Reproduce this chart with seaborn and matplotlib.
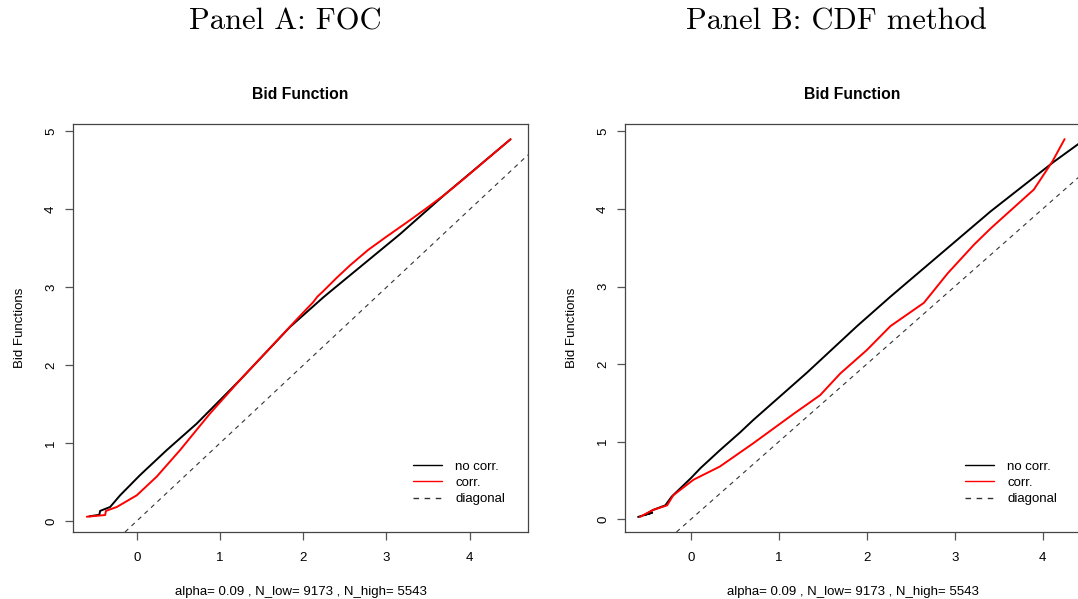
import numpy as np
import pandas as pd
import seaborn as sns
import matplotlib
matplotlib.use("Agg")
import matplotlib.pyplot as plt

# ---------------- data ----------------
panel_titles = ["Panel A: FOC", "Panel B: CDF method"]
plot_title = "Bid Function"
y_label = "Bid Functions"
x_label = "alpha= 0.09 , N_low= 9173 , N_high= 5543"
legend_labels = ["no corr.", "corr.", "diagonal"]
x_ticks = [0, 1, 2, 3, 4]
y_ticks = [0, 1, 2, 3, 4, 5]

a_nocorr_x = [-0.57, -0.45, -0.44, -0.32, -0.20, 0.04, 0.36, 0.72, 1.24, 1.84, 2.24, 2.33, 3.16, 3.70, 4.49]
a_nocorr_y = [0.06, 0.08, 0.13, 0.18, 0.33, 0.59, 0.91, 1.25, 1.81, 2.49, 2.87, 2.95, 3.68, 4.19, 4.90]
a_corr_x = [-0.60, -0.38, -0.37, -0.24, 0.00, 0.24, 0.52, 0.88, 1.24, 1.60, 1.95, 2.12, 2.17, 2.24, 2.40, 2.56,
            2.78, 3.00, 3.28, 3.50, 3.70, 3.95, 4.17, 4.49]
a_corr_y = [0.055, 0.077, 0.13, 0.18, 0.33, 0.57, 0.91, 1.38, 1.81, 2.22, 2.62, 2.81, 2.88, 2.95, 3.12, 3.28,
            3.48, 3.65, 3.86, 4.03, 4.19, 4.41, 4.61, 4.90]

b_nocorr_x = [-0.60, -0.44, -0.52, -0.43, -0.29, -0.22, 0.00, 0.11, 0.33, 0.56, 0.71, 1.23, 1.32, 1.89, 2.27, 2.84, 3.41, 4.13, 4.41, 4.60]
b_nocorr_y = [0.03, 0.085, 0.06, 0.12, 0.18, 0.29, 0.53, 0.66, 0.89, 1.12, 1.28, 1.80, 1.89, 2.49, 2.87, 3.42, 3.97, 4.61, 4.84, 4.98]
b_corr_x = [-0.58, -0.43, -0.27, -0.20, 0.03, 0.33, 0.71, 1.17, 1.47, 1.70, 2.00, 2.27, 2.65, 2.92, 3.22, 3.41, 3.90, 4.11, 4.25]
b_corr_y = [0.03, 0.12, 0.18, 0.31, 0.51, 0.68, 0.98, 1.36, 1.60, 1.88, 2.18, 2.49, 2.79, 3.17, 3.54, 3.75, 4.25, 4.61, 4.90]

diag_intercept = 0.0
diag_slope = 1.0

# ---------------- style ----------------
sns.set_style("white")
plt.rcParams['font.family'] = ['Liberation Sans', 'DejaVu Sans']
plt.rcParams['text.color'] = 'black'
plt.rcParams['axes.labelcolor'] = 'black'

W, H = 1078, 599
fig = plt.figure(figsize=(W / 100, H / 100), dpi=100)

axes_px = [(73, 124, 528, 532), (625, 124, 1080, 532)]
xlims = [(-0.766, 4.70), (-0.749, 4.425)]
ylims = [(-0.141, 5.096), (-0.164, 5.095)]
title_cx = [285, 836]

series = [
    (a_nocorr_x, a_nocorr_y, a_corr_x, a_corr_y),
    (b_nocorr_x, b_nocorr_y, b_corr_x, b_corr_y),
]

fs = 9.5
for i in range(2):
    l, t, r, b = axes_px[i]
    ax = fig.add_axes([l / W, (H - b) / H, (r - l) / W, (b - t) / H])
    nx, ny, cx, cy = series[i]
    df_n = pd.DataFrame({"x": nx, "y": ny})
    df_c = pd.DataFrame({"x": cx, "y": cy})
    sns.lineplot(data=df_n, x="x", y="y", sort=False, estimator=None, color='black',
                 lw=1.4, ax=ax, label=legend_labels[0])
    sns.lineplot(data=df_c, x="x", y="y", sort=False, estimator=None, color='#ff0000',
                 lw=1.4, ax=ax, label=legend_labels[1])
    ax.axline((0, diag_intercept), slope=diag_slope, color='#333333', lw=0.8,
              dashes=(4.0, 4.0), label=legend_labels[2])
    ax.set_xlim(*xlims[i])
    ax.set_ylim(*ylims[i])
    ax.set_xticks(x_ticks)
    ax.set_yticks(y_ticks)
    ax.set_xticklabels([str(v) for v in x_ticks])
    ax.set_yticklabels([str(v) for v in y_ticks], rotation=90, va='center')
    ax.tick_params(axis='both', direction='out', length=5.5, width=0.9, color='#555555',
                   labelsize=fs, labelcolor='black', bottom=True, left=True)
    ax.tick_params(axis='x', pad=9)
    ax.tick_params(axis='y', pad=6)
    for s in ax.spines.values():
        s.set_color('#444444')
        s.set_linewidth(0.9)
    ax.set_xlabel(x_label, fontsize=fs, labelpad=16)
    ax.set_ylabel(y_label, fontsize=fs, labelpad=14)
    ax.set_title(plot_title, fontsize=11.3, fontweight='bold', pad=18)
    leg = ax.legend(loc='lower right', bbox_to_anchor=(0.95, 0.065), frameon=False,
                    fontsize=fs, handlelength=2.2, handletextpad=1.0, labelspacing=0.32,
                    borderpad=0, borderaxespad=0)
    for h in leg.get_lines():
        h.set_linewidth(1.0)
    fig.text(title_cx[i] / W, 1 - 22 / H, panel_titles[i], fontsize=22, family='cmr10',
             ha='center', va='center')

fig.savefig("out.png", dpi=100)
